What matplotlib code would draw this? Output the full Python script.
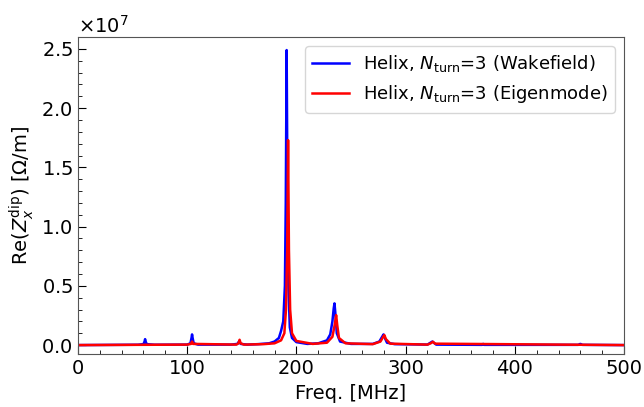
import matplotlib
matplotlib.use("Agg")
import matplotlib.pyplot as plt
import numpy as np
from matplotlib.ticker import MultipleLocator, ScalarFormatter

# Wakefield (blue) spectrum, freq in MHz, value in units of 1e7 Ohm/m
wake_freq = [0, 55, 60, 61, 61.5, 62, 63, 70, 100, 103, 104, 104.5, 105, 106, 110,
             140, 146, 147.5, 149, 155, 165, 175, 180, 184, 186, 188, 189.5, 190.3,
             191.1, 191.9, 192.7, 194, 196, 200, 210, 220, 228, 231, 233, 234.2,
             234.9, 235.6, 237, 240, 250, 270, 276, 278.5, 279.8, 281, 283, 290,
             320, 324.5, 328, 370, 371, 372, 458, 460, 462, 500]
wake_val = [0.0, 0.003, 0.008, 0.03, 0.05, 0.03, 0.008, 0.003, 0.004, 0.015, 0.06, 0.09,
            0.06, 0.015, 0.004, 0.004, 0.01, 0.03, 0.01, 0.004, 0.008, 0.015, 0.03, 0.06,
            0.12, 0.2, 0.5, 1.2, 2.49, 1.2, 0.5, 0.15, 0.06, 0.025, 0.01, 0.015, 0.04,
            0.09, 0.2, 0.31, 0.352, 0.28, 0.1, 0.03, 0.01, 0.01, 0.03, 0.07, 0.09,
            0.06, 0.02, 0.008, 0.004, 0.03, 0.004, 0.002, 0.01, 0.002, 0.002, 0.01,
            0.002, 0.0]

# Eigenmode (red) spectrum
eig_freq = [0, 100, 103.5, 104.5, 105.5, 145, 147, 148, 149, 152, 170, 180, 186, 189,
            190.5, 191.6, 192.4, 193.2, 194.3, 196, 200, 215, 228, 233, 235.3, 236.4,
            237.4, 239, 245, 270, 277, 279.5, 280.5, 282, 286, 320, 323, 325, 327,
            500]
eig_val = [0.0, 0.004, 0.01, 0.03, 0.01, 0.004, 0.015, 0.045, 0.015, 0.004, 0.008,
           0.015, 0.04, 0.1, 0.3, 0.8, 1.73, 0.8, 0.3, 0.1, 0.035, 0.01, 0.02, 0.07,
           0.18, 0.253, 0.17, 0.06, 0.015, 0.008, 0.03, 0.07, 0.085, 0.05, 0.012,
           0.004, 0.015, 0.028, 0.012, 0.0]

labels = [r'Helix, $N_{\mathrm{turn}}$=3 (Wakefield)',
          r'Helix, $N_{\mathrm{turn}}$=3 (Eigenmode)']

fig = plt.figure(figsize=(6.44, 4.07), dpi=100)
ax = fig.add_axes([0.121, 0.130, 0.848, 0.779])

ax.plot(wake_freq, np.array(wake_val) * 1e7, color='blue', lw=1.8, label=labels[0])
ax.plot(eig_freq, np.array(eig_val) * 1e7, color='red', lw=1.8, label=labels[1])

ax.set_xlim(0, 500)
ax.set_ylim(-0.076e7, 2.60e7)
ax.xaxis.set_major_locator(MultipleLocator(100))
ax.xaxis.set_minor_locator(MultipleLocator(20))
ax.yaxis.set_major_locator(MultipleLocator(0.5e7))
ax.yaxis.set_minor_locator(MultipleLocator(0.1e7))
fmt = ScalarFormatter(useMathText=True)
fmt.set_powerlimits((0, 0))
ax.yaxis.set_major_formatter(fmt)
ax.tick_params(which='both', direction='in', labelsize=14)
ax.tick_params(which='major', length=6)
ax.tick_params(which='minor', length=3)
ax.yaxis.get_offset_text().set_fontsize(14)
for s in ax.spines.values():
    s.set_color('#555555')

ax.set_xlabel('Freq. [MHz]', fontsize=14)
ax.set_ylabel(r'Re($Z_x^{\mathrm{dip}}$) [$\Omega$/m]', fontsize=14)
ax.legend(loc='upper right', fontsize=13, handlelength=2.0)

fig.savefig('out.png', dpi=100)
